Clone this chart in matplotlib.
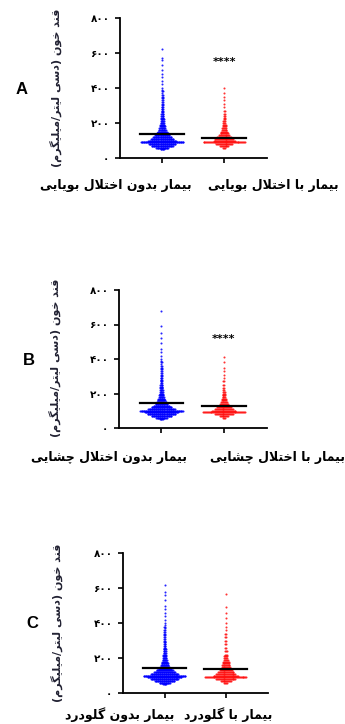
import matplotlib
matplotlib.use("Agg")
import matplotlib.pyplot as plt
import numpy as np

# Persian shaping by hand (matplotlib has no bidi / joining)
FORMS = {  # isolated, final, initial, medial
    'ا': ('\uFE8D', '\uFE8E', None, None),
    'د': ('\uFEA9', '\uFEAA', None, None),
    'ر': ('\uFEAD', '\uFEAE', None, None),
    'و': ('\uFEED', '\uFEEE', None, None),
    'ب': ('\uFE8F', '\uFE90', '\uFE91', '\uFE92'),
    'ت': ('\uFE95', '\uFE96', '\uFE97', '\uFE98'),
    'خ': ('\uFEA5', '\uFEA6', '\uFEA7', '\uFEA8'),
    'چ': ('\uFB7A', '\uFB7B', '\uFB7C', '\uFB7D'),
    'س': ('\uFEB1', '\uFEB2', '\uFEB3', '\uFEB4'),
    'ش': ('\uFEB5', '\uFEB6', '\uFEB7', '\uFEB8'),
    'ق': ('\uFED5', '\uFED6', '\uFED7', '\uFED8'),
    'گ': ('\uFB92', '\uFB93', '\uFB94', '\uFB95'),
    'ل': ('\uFEDD', '\uFEDE', '\uFEDF', '\uFEE0'),
    'م': ('\uFEE1', '\uFEE2', '\uFEE3', '\uFEE4'),
    'ن': ('\uFEE5', '\uFEE6', '\uFEE7', '\uFEE8'),
    'ی': ('\uFBFC', '\uFBFD', '\uFBFE', '\uFBFF'),
}
MIRROR = {'(': ')', ')': '('}


def dual(c):
    return c in FORMS and FORMS[c][2] is not None


def fa(text):
    res = []
    n = len(text)
    i = 0
    while i < n:
        c = text[i]
        prev = text[i - 1] if i > 0 else ''
        nxt = text[i + 1] if i < n - 1 else ''
        jp = dual(prev)
        if c not in FORMS:
            res.append(MIRROR.get(c, c))
            i += 1
            continue
        if c == 'ل' and nxt == 'ا':
            res.append('\uFEFC' if jp else '\uFEFB')
            i += 2
            continue
        jn = dual(c) and nxt in FORMS
        iso, fin, ini, med = FORMS[c]
        if jp and jn:
            res.append(med)
        elif jp:
            res.append(fin)
        elif jn:
            res.append(ini)
        else:
            res.append(iso)
        i += 1
    return ''.join(res[::-1])


# ---- data (glucose, mg/dl), binned by 10 ----
ylabel = 'قند خون (دسی لیتر/میلیگرم)'
yticks = [0, 200, 400, 600, 800]
yticklabels = ['۰', '۲۰۰', '۴۰۰', '۶۰۰', '۸۰۰']

labels_A = ['بیمار بدون اختلال بویایی', 'بیمار با اختلال بویایی']
labels_B = ['بیمار بدون اختلال چشایی', 'بیمار با اختلال چشایی']
labels_C = ['بیمار بدون گلودرد', 'بیمار با گلودرد']

blue_A_vals = [50, 60, 70, 80, 90, 100, 110, 120, 130, 140, 150, 160, 170, 180, 190, 200, 210, 220, 230, 240,
               250, 260, 270, 280, 290, 300, 310, 320, 330, 340, 350, 360, 370, 380, 390, 400, 420, 440, 460, 480,
               500, 530, 560, 570, 620]
blue_A_cnt = [6, 18, 32, 40, 64, 42, 34, 28, 22, 17, 14, 11, 9, 8, 7, 6, 5, 5, 4, 4,
              4, 3, 3, 3, 3, 2, 2, 2, 2, 2, 2, 2, 1, 2, 1, 1, 1, 1, 1, 1,
              1, 1, 1, 1, 1]
red_A_vals = [60, 70, 80, 90, 100, 110, 120, 130, 140, 150, 160, 170, 180, 190, 200, 210, 220, 230, 240, 250,
              270, 290, 310, 330, 350, 370, 400]
red_A_cnt = [3, 10, 18, 46, 24, 20, 16, 12, 9, 7, 6, 5, 4, 4, 3, 3, 2, 2, 2, 2,
             2, 1, 1, 1, 1, 1, 1]

blue_B_vals = [50, 60, 70, 80, 90, 100, 110, 120, 130, 140, 150, 160, 170, 180, 190, 200, 210, 220, 230, 240,
               250, 260, 270, 280, 290, 300, 310, 320, 330, 340, 350, 360, 370, 380, 390, 400, 420, 440, 460, 490,
               520, 550, 590, 680]
blue_B_cnt = [5, 16, 30, 42, 50, 64, 40, 30, 24, 18, 15, 12, 10, 8, 7, 6, 5, 5, 4, 4,
              4, 3, 3, 3, 3, 2, 2, 2, 2, 2, 2, 2, 1, 2, 1, 1, 1, 1, 1, 1,
              1, 1, 1, 1]
red_B_vals = [60, 70, 80, 90, 100, 110, 120, 130, 140, 150, 160, 170, 180, 190, 200, 210, 220, 230, 250, 270,
              290, 310, 330, 350, 380, 410]
red_B_cnt = [3, 10, 20, 46, 26, 20, 16, 12, 9, 7, 6, 5, 4, 4, 3, 3, 2, 2, 2, 2,
             1, 1, 1, 1, 1, 1]

blue_C_vals = [50, 60, 70, 80, 90, 100, 110, 120, 130, 140, 150, 160, 170, 180, 190, 200, 210, 220, 230, 240,
               250, 260, 270, 280, 290, 300, 310, 320, 330, 340, 350, 360, 370, 380, 390, 400, 420, 440, 460, 480,
               500, 530, 560, 580, 620]
blue_C_cnt = [5, 16, 30, 42, 52, 64, 42, 32, 25, 19, 15, 12, 10, 8, 7, 6, 5, 5, 4, 4,
              4, 3, 3, 3, 3, 2, 2, 2, 2, 2, 2, 2, 1, 2, 1, 1, 1, 1, 1, 1,
              1, 1, 1, 1, 1]
red_C_vals = [60, 70, 80, 90, 100, 110, 120, 130, 140, 150, 160, 170, 180, 190, 200, 210, 220, 240, 260, 280,
              300, 320, 340, 360, 380, 400, 430, 460, 490, 566]
red_C_cnt = [4, 12, 22, 46, 28, 22, 18, 14, 12, 10, 9, 8, 7, 5, 4, 4, 3, 3, 2, 2,
             2, 2, 2, 1, 1, 1, 1, 1, 1, 1]

means_A = [137, 116]
means_B = [147, 128]
means_C = [143, 137]
stars_y = [549, 516, None]

W, H = 345, 724
fig = plt.figure(figsize=(W / 100, H / 100), dpi=100)
AR = ['DejaVu Sans']


def swarm(ax, xc, vals, cnt, step, color, size):
    xs, ys = [], []
    for j, (v, k) in enumerate(zip(vals, cnt)):
        off = (np.arange(k) - (k - 1) / 2) * step
        xs.extend(xc + off)
        ys.extend([v] * k)
    ax.scatter(xs, ys, s=size, color=color, linewidths=0, alpha=0.85, zorder=2)


def panel(box, letter, letter_xy, ylab_xy, labels, lab_pos, blue, red, means, star):
    l, r, b, t = box
    ax = fig.add_axes([l / W, 1 - b / H, (r - l) / W, (b - t) / H])
    swarm(ax, 0, blue[0], blue[1], 0.0108, '#0000ff', 2.2)
    swarm(ax, 1, red[0], red[1], 0.0148, '#ff1010', 2.2)
    for xc, m in zip([0, 1], means):
        ax.plot([xc - 0.35, xc + 0.35], [m, m], color='black', lw=1.6, zorder=3)
    if star is not None:
        ax.text(1, star, '****', ha='center', va='center', fontsize=8, fontweight='bold')
    ax.set_xlim(-0.68, 1.69)
    ax.set_ylim(0, 800)
    ax.spines['top'].set_visible(False)
    ax.spines['right'].set_visible(False)
    for s in ['left', 'bottom']:
        ax.spines[s].set_linewidth(1.3)
    ax.set_xticks([0, 1])
    ax.set_xticklabels([])
    ax.set_yticks(yticks)
    ax.set_yticklabels(yticklabels, fontsize=7.5, fontweight='bold', family=AR)
    ax.tick_params(length=3.5, width=1.2, pad=4)
    fig.text(ylab_xy[0] / W, 1 - ylab_xy[1] / H, fa(ylabel), rotation=90, ha='center', va='center',
             fontsize=8, fontweight='bold', family=AR, color='#222233')
    fig.text(letter_xy[0] / W, 1 - letter_xy[1] / H, letter, fontsize=12, fontweight='bold',
             family='Liberation Sans', ha='center', va='center')
    fig.text(lab_pos[0] / W, 1 - lab_pos[2] / H, fa(labels[0]), ha='right', va='center',
             fontsize=9, fontweight='bold', family=AR)
    fig.text(lab_pos[1] / W, 1 - lab_pos[2] / H, fa(labels[1]), ha='left', va='center',
             fontsize=9, fontweight='bold', family=AR)


panel((120, 267, 158, 18), 'A', (22, 89), (56, 88), labels_A, (192, 208, 185),
      (blue_A_vals, blue_A_cnt), (red_A_vals, red_A_cnt), means_A, stars_y[0])
panel((119, 267, 428, 290), 'B', (29, 361), (55, 358), labels_B, (187, 210, 457),
      (blue_B_vals, blue_B_cnt), (red_B_vals, red_B_cnt), means_B, stars_y[1])
panel((123, 268, 693, 553), 'C', (32, 623), (57, 623), labels_C, (174, 184, 715),
      (blue_C_vals, blue_C_cnt), (red_C_vals, red_C_cnt), means_C, stars_y[2])

fig.savefig('out.png', dpi=100)
